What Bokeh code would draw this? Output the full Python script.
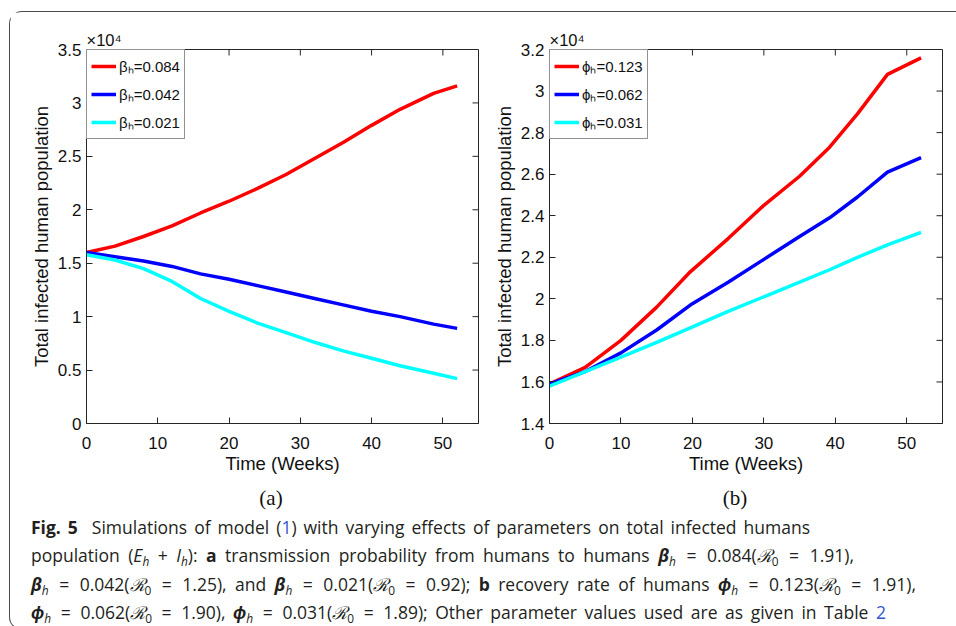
import math
from bokeh.plotting import figure
from bokeh.models import (FixedTicker, NumeralTickFormatter, Range1d,
                          Legend, LegendItem, Div)
from bokeh.layouts import row, column
from bokeh.embed import file_html
from bokeh.resources import INLINE

# ---------------- data (values in units of 10^4) ----------------
weeks_a = [0, 4, 8, 12, 16, 20, 24, 28, 32, 36, 40, 44, 48.7, 52]
red_a = [1.60, 1.66, 1.75, 1.85, 1.97, 2.08, 2.20, 2.33, 2.48, 2.63, 2.79, 2.94, 3.09, 3.16]
blue_a = [1.60, 1.56, 1.52, 1.47, 1.40, 1.35, 1.29, 1.23, 1.17, 1.11, 1.05, 1.00, 0.93, 0.89]
cyan_a = [1.58, 1.53, 1.45, 1.33, 1.17, 1.05, 0.94, 0.85, 0.76, 0.68, 0.61, 0.54, 0.47, 0.42]
labels_a = ["βₕ=0.084", "βₕ=0.042", "βₕ=0.021"]

weeks_b = [0, 5, 10, 15, 19.7, 25, 30, 35, 39.2, 43.1, 47.3, 52]
red_b = [1.59, 1.67, 1.80, 1.96, 2.13, 2.29, 2.45, 2.59, 2.73, 2.89, 3.08, 3.16]
blue_b = [1.59, 1.65, 1.74, 1.85, 1.97, 2.08, 2.19, 2.30, 2.39, 2.49, 2.61, 2.68]
cyan_b = [1.58, 1.65, 1.72, 1.79, 1.86, 1.94, 2.01, 2.08, 2.14, 2.20, 2.26, 2.32]
labels_b = ["ϕₕ=0.123", "ϕₕ=0.062", "ϕₕ=0.031"]

x_range = (0, 55)
x_ticks = [0, 10, 20, 30, 40, 50]
y_range_a = (0, 3.5)
y_ticks_a = [0, 0.5, 1, 1.5, 2, 2.5, 3, 3.5]
y_range_b = (1.4, 3.2)
y_ticks_b = [1.4, 1.6, 1.8, 2.0, 2.2, 2.4, 2.6, 2.8, 3.0, 3.2]
exponent = "×10⁴"
colors = ["#FF0000", "#0000FF", "#00FFFF"]

AX = "#262626"
TXT = "#111111"
SANS = "Liberation Sans"


def style_axis(ax, ticks, standoff, label_standoff):
    ax.ticker = FixedTicker(ticks=ticks)
    ax.formatter = NumeralTickFormatter(format="0.[0]")
    ax.major_tick_in = 6
    ax.major_tick_out = 0
    ax.minor_tick_line_color = None
    ax.axis_line_color = AX
    ax.major_tick_line_color = AX
    ax.major_label_text_font = SANS
    ax.major_label_text_font_size = "17px"
    ax.major_label_text_color = TXT
    ax.major_label_standoff = standoff
    ax.axis_label_text_font = SANS
    ax.axis_label_text_font_size = "18.5px"
    ax.axis_label_text_font_style = "normal"
    ax.axis_label_text_color = TXT
    ax.axis_label_standoff = label_standoff


def make_panel(weeks, series, labels, yr, yticks, mb_left, width):
    p = figure(width=width, height=465, x_range=Range1d(*x_range), y_range=Range1d(*yr),
               output_backend="svg", toolbar_location=None,
               min_border_left=mb_left, min_border_right=12,
               min_border_top=37, min_border_bottom=54, title=exponent)
    p.grid.visible = False
    p.outline_line_color = AX
    p.background_fill_color = "white"
    p.border_fill_color = "white"

    # exponent marker above the y axis (MATLAB style)
    p.title.text_font = SANS
    p.title.text_font_size = "16.5px"
    p.title.text_font_style = "normal"
    p.title.text_color = TXT
    p.title.align = "left"
    p.title.offset = 0
    p.title.standoff = 2

    style_axis(p.xaxis[0], x_ticks, 13, 1)
    style_axis(p.yaxis[0], yticks, 5, 3)
    p.xaxis[0].axis_label = "Time (Weeks)"
    p.yaxis[0].axis_label = "Total infected human population"

    # inward ticks on the top and right edges of the box (MATLAB "box on")
    p.ray(x=x_ticks, y=[yr[1]] * len(x_ticks), length=6, length_units="screen",
          angle=-math.pi / 2, line_color=AX, line_width=1)
    p.ray(x=[x_range[1]] * len(yticks), y=yticks, length=6, length_units="screen",
          angle=math.pi, line_color=AX, line_width=1)

    items = []
    for s, c, l in zip(series, colors, labels):
        r = p.line(weeks, s, line_color=c, line_width=3.5)
        items.append(LegendItem(label=l, renderers=[r]))
    leg = Legend(items=items, location="top_left", margin=0, padding=4, spacing=4,
                 glyph_width=25, glyph_height=24, label_standoff=3,
                 label_text_font=SANS, label_text_font_size="15px",
                 label_text_color=TXT,
                 border_line_color=AX, border_line_width=1, background_fill_alpha=1)
    p.add_layout(leg)
    return p


p1 = make_panel(weeks_a, [red_a, blue_a, cyan_a], labels_a, y_range_a, y_ticks_a, 76, 480)
p2 = make_panel(weeks_b, [red_b, blue_b, cyan_b], labels_b, y_range_b, y_ticks_b, 59, 464)

# ---------------- caption ----------------
BL = "#3355cc"
SUB = '<sub style="font-size:68%;vertical-align:-0.3em;line-height:0">{}</sub>'
EQ = '<span style="padding:0 0.12em">=</span>'
bh = '<i><b>β</b></i>' + SUB.format('<i>h</i>')
ph = '<i><b>ϕ</b></i>' + SUB.format('<i>h</i>')
R0 = '<i>ℛ</i>' + SUB.format('0')

caption_lines = [
    ('<b>Fig. 5</b>&nbsp; Simulations of model (<span style="color:%s">1</span>) with varying '
     'effects of parameters on total infected humans' % BL, 779),
    ('population (<i>E</i>' + SUB.format('<i>h</i>') + ' + <i>I</i>' + SUB.format('<i>h</i>')
     + '): <b>a</b> transmission probability from humans to humans ' + bh + ' ' + EQ
     + ' 0.084(' + R0 + ' ' + EQ + ' 1.91),', 823),
    (bh + ' ' + EQ + ' 0.042(' + R0 + ' ' + EQ + ' 1.25), and ' + bh + ' ' + EQ + ' 0.021('
     + R0 + ' ' + EQ + ' 0.92); <b>b</b> recovery rate of humans ' + ph + ' ' + EQ
     + ' 0.123(' + R0 + ' ' + EQ + ' 1.91),', 885),
    (ph + ' ' + EQ + ' 0.062(' + R0 + ' ' + EQ + ' 1.90), ' + ph + ' ' + EQ + ' 0.031(' + R0
     + ' ' + EQ + ' 1.89); Other parameter values used are as given in Table '
     '<span style="color:%s">2</span>' % BL, 855),
]

line_divs = ''.join(
    '<div style="width:%dpx;text-align:justify;text-align-last:justify;height:28.3px;'
    'line-height:28.3px">%s</div>' % (w, t) for t, w in caption_lines)

html = (
    '<div style="position:relative;width:940px;height:142px;font-family:\'Open Sans\',sans-serif;'
    'color:#231f20">'
    '<div style="position:absolute;left:221px;top:4px;width:70px;text-align:center;'
    'font-family:\'Liberation Serif\',serif;font-size:21px;line-height:24px;color:#111">(a)</div>'
    '<div style="position:absolute;left:685px;top:4px;width:70px;text-align:center;'
    'font-family:\'Liberation Serif\',serif;font-size:21px;line-height:24px;color:#111">(b)</div>'
    '<div style="position:absolute;left:16px;top:31px;font-size:17.5px">' + line_divs + '</div>'
    '</div>'
)
cap = Div(text=html, width=944, height=142, styles={"overflow": "visible"})

layout = column(row(p1, p2), cap,
                styles={"border-top": "1px solid #4a4a4a", "border-left": "1px solid #4a4a4a",
                        "border-bottom": "1px solid #4a4a4a",
                        "border-top-left-radius": "13px", "border-bottom-left-radius": "13px",
                        "margin-top": "11px", "margin-left": "9px"})

open("out.html", "w").write(file_html(layout, INLINE))
